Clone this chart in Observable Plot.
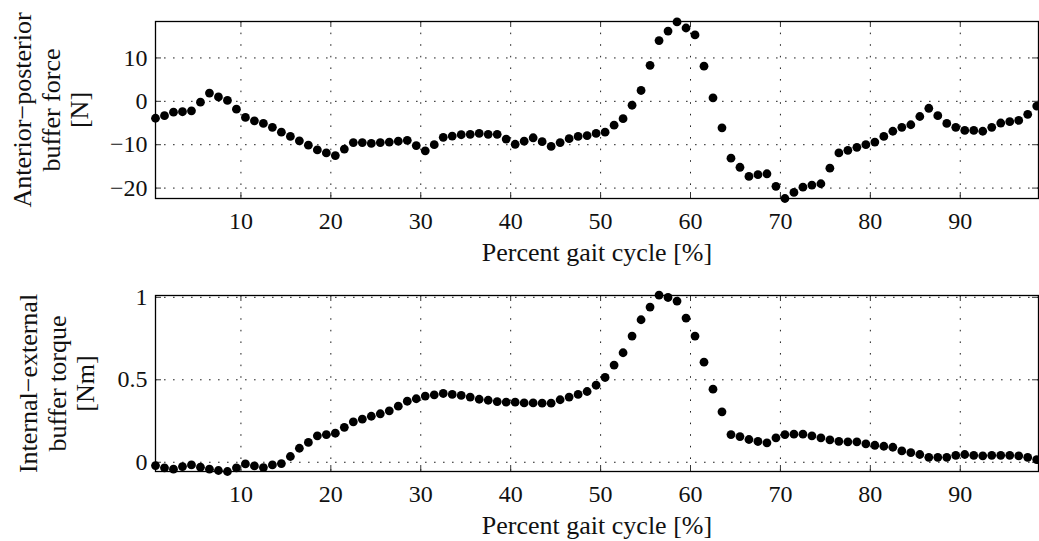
<!DOCTYPE html>
<html>
<head>
<meta charset="utf-8">
<script src="https://cdn.jsdelivr.net/npm/d3@7"></script>
<script src="https://cdn.jsdelivr.net/npm/@observablehq/plot@0.6"></script>
<style>
  html, body { margin: 0; padding: 0; background: #fff; }
  svg { display: block; }
</style>
</head>
<body>
<div id="chart"></div>
<script>
// Sample positions along the gait cycle (percent)
const pct = [
  0.5, 1.5, 2.5, 3.5, 4.5, 5.5, 6.5, 7.5, 8.5, 9.5,
  10.5, 11.5, 12.5, 13.5, 14.5, 15.5, 16.5, 17.5, 18.5, 19.5,
  20.5, 21.5, 22.5, 23.5, 24.5, 25.5, 26.5, 27.5, 28.5, 29.5,
  30.5, 31.5, 32.5, 33.5, 34.5, 35.5, 36.5, 37.5, 38.5, 39.5,
  40.5, 41.5, 42.5, 43.5, 44.5, 45.5, 46.5, 47.5, 48.5, 49.5,
  50.5, 51.5, 52.5, 53.5, 54.5, 55.5, 56.5, 57.5, 58.5, 59.5,
  60.5, 61.5, 62.5, 63.5, 64.5, 65.5, 66.5, 67.5, 68.5, 69.5,
  70.5, 71.5, 72.5, 73.5, 74.5, 75.5, 76.5, 77.5, 78.5, 79.5,
  80.5, 81.5, 82.5, 83.5, 84.5, 85.5, 86.5, 87.5, 88.5, 89.5,
  90.5, 91.5, 92.5, 93.5, 94.5, 95.5, 96.5, 97.5, 98.5
];

// Anterior-posterior buffer force [N]
const apForce = [
  -3.9, -3.3, -2.5, -2.4, -2.2, -0.2, 1.9, 1.0, 0.2, -1.8,
  -3.7, -4.5, -5.1, -6.0, -7.1, -8.1, -9.1, -10.1, -11.2, -11.9,
  -12.5, -11.0, -9.5, -9.5, -9.7, -9.5, -9.4, -9.2, -9.0, -10.2,
  -11.4, -10.0, -8.3, -8.0, -7.7, -7.6, -7.4, -7.6, -7.6, -8.7,
  -9.9, -9.2, -8.4, -9.3, -10.4, -9.5, -8.6, -8.1, -7.9, -7.4,
  -7.1, -5.5, -4.0, -0.9, 2.5, 8.3, 14.0, 16.2, 18.3, 16.9,
  15.3, 8.1, 0.8, -6.1, -13.1, -15.2, -17.3, -16.9, -16.7, -19.6,
  -22.4, -21.0, -19.8, -19.3, -19.0, -15.4, -11.9, -11.3, -10.6, -10.0,
  -9.4, -8.1, -6.9, -6.0, -5.4, -3.5, -1.6, -3.3, -5.1, -6.0,
  -6.7, -6.7, -6.9, -6.0, -5.0, -4.7, -4.4, -3.0, -1.1
];

// Internal-external buffer torque [Nm]
const ieTorque = [
  -0.020, -0.034, -0.042, -0.026, -0.016, -0.030, -0.042, -0.050, -0.056, -0.034,
  -0.010, -0.022, -0.032, -0.016, -0.008, 0.035, 0.085, 0.120, 0.160, 0.168,
  0.176, 0.212, 0.245, 0.261, 0.279, 0.294, 0.312, 0.340, 0.370, 0.385,
  0.401, 0.409, 0.417, 0.411, 0.405, 0.395, 0.382, 0.376, 0.368, 0.364,
  0.364, 0.360, 0.360, 0.358, 0.358, 0.379, 0.395, 0.411, 0.429, 0.467,
  0.514, 0.589, 0.664, 0.765, 0.864, 0.941, 1.013, 0.999, 0.977, 0.874,
  0.765, 0.607, 0.443, 0.306, 0.168, 0.156, 0.138, 0.126, 0.118, 0.148,
  0.168, 0.170, 0.170, 0.160, 0.148, 0.136, 0.127, 0.124, 0.124, 0.112,
  0.103, 0.097, 0.091, 0.069, 0.059, 0.047, 0.030, 0.030, 0.030, 0.042,
  0.047, 0.042, 0.039, 0.042, 0.042, 0.042, 0.039, 0.030, 0.016
];

const xTicks = [10, 20, 30, 40, 50, 60, 70, 80, 90];
const apTicks = [-20, -10, 0, 10];
const ieTicks = [0, 0.5, 1];
const xTitle = "Percent gait cycle [%]";
const apLabel = "Anterior\u2212posterior\nbuffer force\n[N]";
const ieLabel = "Internal\u2212external\nbuffer torque\n[Nm]";

const W = 1039;
const ML = 155, MR = 1;
const FONT = "Liberation Serif";
const fmt = d => (d < 0 ? "\u2212" : "") + String(Math.abs(d));

function panel({values, yDomain, yTicks, yLabel, height, marginTop, marginBottom, labelDx}) {
  const data = pct.map((x, i) => ({x, y: values[i]}));
  const innerH = height - marginTop - marginBottom;
  const innerW = W - ML - MR;
  const tickLen = 6;
  return Plot.plot({
    width: W,
    height,
    marginLeft: ML,
    marginRight: MR,
    marginTop,
    marginBottom,
    style: {fontFamily: FONT, fontSize: "24px", color: "#111", background: "#fff", overflow: "visible"},
    x: {domain: [0.5, 98.7]},
    y: {domain: yDomain},
    marks: [
      // dotted grid
      Plot.ruleX(xTicks, {x: d => d, stroke: "#222", strokeWidth: 1, strokeDasharray: "1.6,10"}),
      Plot.ruleY(yTicks, {y: d => d, stroke: "#222", strokeWidth: 1, strokeDasharray: "1.6,7.4"}),
      // inward ticks on all four sides
      Plot.tickX(xTicks, {x: d => d, insetTop: innerH - tickLen, stroke: "#333"}),
      Plot.tickX(xTicks, {x: d => d, insetBottom: innerH - tickLen, stroke: "#333"}),
      Plot.tickY(yTicks, {y: d => d, insetRight: innerW - tickLen, stroke: "#333"}),
      Plot.tickY(yTicks, {y: d => d, insetLeft: innerW - tickLen, stroke: "#333"}),
      // samples
      Plot.dot(data, {x: "x", y: "y", r: 4.4, fill: "#000", stroke: "none"}),
      Plot.frame({stroke: "#000", strokeWidth: 1.3}),
      // tick labels
      Plot.axisX(xTicks, {tickSize: 0, tickPadding: 13, label: null, fontSize: 24, fontFamily: FONT, tickFormat: fmt}),
      Plot.axisY(yTicks, {tickSize: 0, tickPadding: 8, label: null, fontSize: 24, fontFamily: FONT, tickFormat: fmt}),
      // axis titles
      Plot.text([xTitle], {text: d => d, frameAnchor: "bottom", dy: 62, lineAnchor: "bottom", fontSize: 26, fontFamily: FONT, fill: "#111"}),
      Plot.text([yLabel], {text: d => d, frameAnchor: "left", textAnchor: "middle", rotate: -90, dx: labelDx, lineHeight: 1.08, fontSize: 26, fontFamily: FONT, fill: "#111"})
    ]
  });
}

const chart = document.getElementById("chart");
chart.appendChild(panel({
  values: apForce, yDomain: [-22.4, 18.4], yTicks: apTicks, yLabel: apLabel,
  height: 270, marginTop: 21, marginBottom: 72, labelDx: -105
}));
chart.appendChild(panel({
  values: ieTorque, yDomain: [-0.056, 1.011], yTicks: ieTicks, yLabel: ieLabel,
  height: 271, marginTop: 25, marginBottom: 70, labelDx: -99
}));
</script>
</body>
</html>
